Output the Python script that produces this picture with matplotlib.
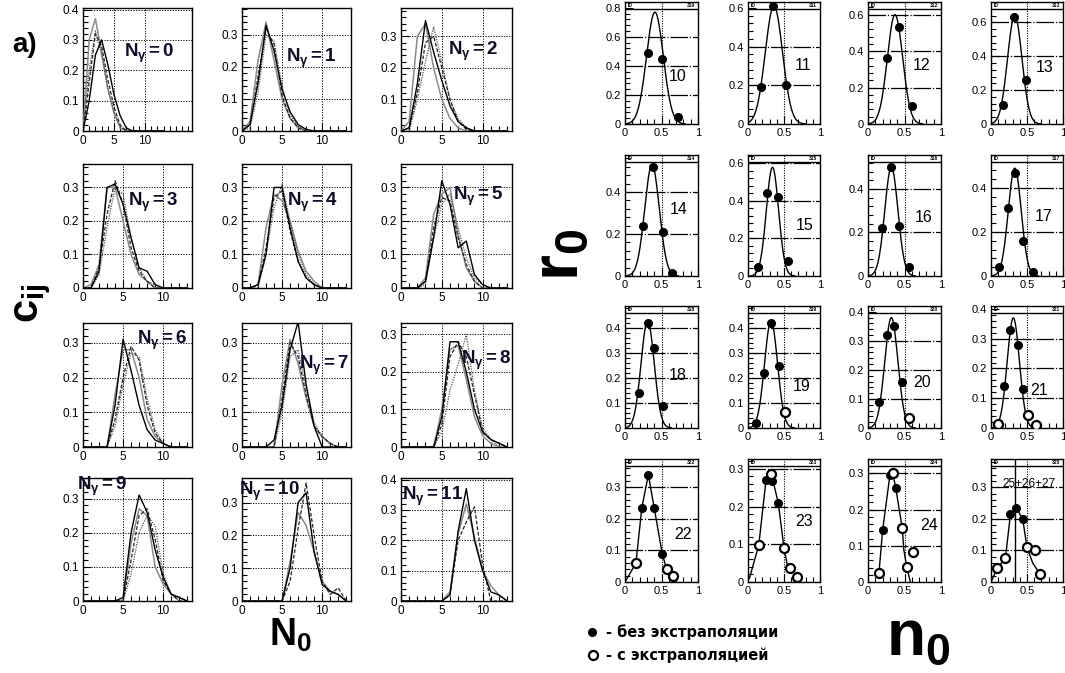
import numpy as np
import matplotlib
matplotlib.use('Agg')
import matplotlib.pyplot as plt
from matplotlib.ticker import MultipleLocator, FuncFormatter, FixedLocator

plt.rcParams['font.family'] = ['Liberation Sans', 'DejaVu Sans']
plt.rcParams['mathtext.fontset'] = 'custom'
plt.rcParams['mathtext.rm'] = 'Liberation Sans'
plt.rcParams['mathtext.bf'] = 'Liberation Sans:bold'
plt.rcParams['mathtext.it'] = 'Liberation Sans:italic'

# ---------------- left block: c_ij vs N0 ----------------
n0_grid = list(range(14))
n_gamma = list(range(12))

c_black = [
    [0, 0.10, 0.25, 0.30, 0.22, 0.12, 0.05, 0.01, 0, 0, 0, 0, 0, 0],
    [0, 0.02, 0.15, 0.33, 0.25, 0.13, 0.06, 0.02, 0.005, 0, 0, 0, 0, 0],
    [0, 0.01, 0.15, 0.35, 0.25, 0.16, 0.08, 0.03, 0.01, 0, 0, 0, 0, 0],
    [0, 0, 0.05, 0.30, 0.31, 0.25, 0.15, 0.06, 0.05, 0.01, 0, 0, 0, 0],
    [0, 0, 0.01, 0.10, 0.30, 0.30, 0.18, 0.08, 0.03, 0.01, 0, 0, 0, 0],
    [0, 0, 0, 0.02, 0.15, 0.32, 0.25, 0.12, 0.14, 0.04, 0.01, 0, 0, 0],
    [0, 0, 0, 0, 0.12, 0.31, 0.22, 0.12, 0.05, 0.02, 0.01, 0, 0, 0],
    [0, 0, 0, 0, 0.02, 0.12, 0.28, 0.36, 0.18, 0.06, 0, 0, 0, 0],
    [0, 0, 0, 0, 0, 0.08, 0.28, 0.28, 0.20, 0.10, 0.04, 0.02, 0.01, 0],
    [0, 0, 0, 0, 0, 0.01, 0.20, 0.31, 0.26, 0.15, 0.07, 0.02, 0.01, 0],
    [0, 0, 0, 0, 0, 0, 0.10, 0.30, 0.33, 0.15, 0.05, 0.03, 0.02, 0],
    [0, 0, 0, 0, 0, 0, 0.02, 0.23, 0.37, 0.20, 0.10, 0.03, 0.02, 0],
]
c_gray = [
    [0, 0.30, 0.37, 0.26, 0.14, 0.06, 0.01, 0, 0, 0, 0, 0, 0, 0],
    [0, 0.03, 0.22, 0.34, 0.22, 0.10, 0.04, 0.01, 0, 0, 0, 0, 0, 0],
    [0, 0.03, 0.30, 0.34, 0.20, 0.10, 0.04, 0.01, 0, 0, 0, 0, 0, 0],
    [0, 0.01, 0.07, 0.30, 0.30, 0.20, 0.10, 0.04, 0.02, 0, 0, 0, 0, 0],
    [0, 0, 0.01, 0.18, 0.28, 0.26, 0.20, 0.11, 0.05, 0.02, 0, 0, 0, 0],
    [0, 0, 0, 0.03, 0.22, 0.28, 0.30, 0.16, 0.06, 0.02, 0, 0, 0, 0],
    [0, 0, 0, 0, 0.15, 0.28, 0.28, 0.20, 0.08, 0.03, 0.01, 0, 0, 0],
    [0, 0, 0, 0, 0, 0.18, 0.31, 0.24, 0.14, 0.06, 0.03, 0.01, 0, 0],
    [0, 0, 0, 0, 0, 0.10, 0.26, 0.27, 0.18, 0.08, 0.03, 0.01, 0, 0],
    [0, 0, 0, 0, 0, 0, 0.17, 0.27, 0.25, 0.10, 0.05, 0.02, 0.01, 0],
    [0, 0, 0, 0, 0, 0, 0.12, 0.27, 0.23, 0.15, 0.06, 0.03, 0.02, 0],
    [0, 0, 0, 0, 0, 0, 0.03, 0.22, 0.32, 0.21, 0.10, 0.05, 0.02, 0],
]
c_dash = [
    [0, 0.16, 0.32, 0.28, 0.17, 0.08, 0.02, 0, 0, 0, 0, 0, 0, 0],
    [0, 0.02, 0.17, 0.32, 0.27, 0.11, 0.04, 0.01, 0, 0, 0, 0, 0, 0],
    [0, 0.01, 0.12, 0.28, 0.30, 0.20, 0.10, 0.03, 0.005, 0, 0, 0, 0, 0],
    [0, 0, 0.06, 0.22, 0.32, 0.25, 0.12, 0.05, 0.02, 0, 0, 0, 0, 0],
    [0, 0, 0.01, 0.12, 0.27, 0.29, 0.17, 0.08, 0.03, 0.01, 0, 0, 0, 0],
    [0, 0, 0, 0.02, 0.18, 0.27, 0.26, 0.15, 0.07, 0.02, 0, 0, 0, 0],
    [0, 0, 0, 0, 0.08, 0.20, 0.29, 0.25, 0.12, 0.04, 0.01, 0, 0, 0],
    [0, 0, 0, 0, 0, 0.14, 0.30, 0.26, 0.15, 0.06, 0.03, 0.01, 0, 0],
    [0, 0, 0, 0, 0, 0.06, 0.24, 0.28, 0.24, 0.14, 0.04, 0.02, 0.01, 0],
    [0, 0, 0, 0, 0, 0, 0.12, 0.25, 0.27, 0.18, 0.06, 0.02, 0, 0],
    [0, 0, 0, 0, 0, 0, 0.06, 0.22, 0.36, 0.20, 0.06, 0.02, 0.04, 0],
    [0, 0, 0, 0, 0, 0, 0.02, 0.20, 0.26, 0.31, 0.12, 0, 0, 0],
]
c_dot = [
    [0, 0.20, 0.33, 0.25, 0.14, 0.06, 0.015, 0, 0, 0, 0, 0, 0, 0],
    [0, 0.01, 0.12, 0.30, 0.28, 0.14, 0.05, 0.015, 0, 0, 0, 0, 0, 0],
    [0, 0, 0.10, 0.22, 0.33, 0.22, 0.10, 0.04, 0.01, 0, 0, 0, 0, 0],
    [0, 0, 0.04, 0.18, 0.30, 0.28, 0.15, 0.06, 0.02, 0.01, 0, 0, 0, 0],
    [0, 0, 0, 0.10, 0.24, 0.31, 0.20, 0.10, 0.04, 0.01, 0, 0, 0, 0],
    [0, 0, 0, 0.01, 0.15, 0.25, 0.28, 0.18, 0.09, 0.03, 0.01, 0, 0, 0],
    [0, 0, 0, 0, 0.06, 0.18, 0.27, 0.26, 0.14, 0.05, 0.01, 0, 0, 0],
    [0, 0, 0, 0, 0, 0.10, 0.26, 0.28, 0.17, 0.07, 0.03, 0.01, 0, 0],
    [0, 0, 0, 0, 0, 0.04, 0.15, 0.22, 0.30, 0.15, 0.05, 0.02, 0, 0],
    [0, 0, 0, 0, 0, 0, 0.08, 0.20, 0.25, 0.22, 0.08, 0.02, 0, 0],
    None,
    None,
]
left_xmax = [17.6] + [13.6] * 11
left_xticks = [0, 5, 10]
left_ymax = [0.405, 0.384, 0.39, 0.37, 0.37, 0.37, 0.357, 0.357, 0.33, 0.36, 0.375, 0.405]
ng_label_pos = [(0.61, 0.63), (0.64, 0.59), (0.65, 0.65), (0.64, 0.69), (0.65, 0.69), (0.70, 0.74),
                (0.73, 0.86), (0.75, 0.66), (0.77, 0.70), (0.18, 0.93), (0.25, 0.89), (0.28, 0.85)]

# ---------------- right block: r0 vs n0 ----------------
bin_ids = list(range(10, 26))
bin_labels = ['10', '11', '12', '13', '14', '15', '16', '17', '18', '19', '20', '21', '22', '23', '24', '25+26+27']
header_ids = ['310', '311', '312', '313', '314', '315', '316', '317',
              '318', '319', '320', '321', '322', '323', '324', '325']
r_ymax = [0.84, 0.63, 0.67, 0.72, 0.576, 0.645, 0.556, 0.55,
          0.49, 0.49, 0.42, 0.41, 0.39, 0.326, 0.34, 0.39]
r_ystep = [0.2] * 8 + [0.1] * 8

filled_x = [[0.31, 0.50, 0.72], [0.18, 0.35, 0.53], [0.26, 0.42, 0.60], [0.16, 0.32, 0.48],
            [0.24, 0.38, 0.52, 0.65], [0.14, 0.27, 0.41, 0.55], [0.19, 0.32, 0.43, 0.56],
            [0.11, 0.23, 0.34, 0.45, 0.58],
            [0.19, 0.31, 0.40, 0.52], [0.11, 0.22, 0.32, 0.43], [0.15, 0.26, 0.36, 0.46],
            [0.18, 0.27, 0.37, 0.45],
            [0.23, 0.32, 0.40, 0.51], [0.25, 0.33, 0.42], [0.20, 0.30, 0.38], [0.27, 0.35, 0.44]]
filled_y = [[0.49, 0.45, 0.05], [0.19, 0.61, 0.20], [0.36, 0.53, 0.10], [0.11, 0.63, 0.26],
            [0.24, 0.52, 0.21, 0.015], [0.05, 0.44, 0.42, 0.08], [0.22, 0.50, 0.23, 0.04],
            [0.04, 0.31, 0.47, 0.16, 0.02],
            [0.14, 0.42, 0.32, 0.09], [0.02, 0.22, 0.42, 0.25], [0.09, 0.32, 0.35, 0.16],
            [0.14, 0.33, 0.28, 0.13],
            [0.235, 0.34, 0.235, 0.09], [0.27, 0.268, 0.21], [0.143, 0.295, 0.26], [0.215, 0.235, 0.20]]
open_x = [[], [], [], [], [], [], [], [],
          [], [0.52], [0.56], [0.10, 0.51, 0.63],
          [0.15, 0.57, 0.66], [0.15, 0.32, 0.50, 0.59, 0.68], [0.15, 0.34, 0.47, 0.53, 0.62],
          [0.09, 0.20, 0.50, 0.61, 0.68]]
open_y = [[], [], [], [], [], [], [], [],
          [], [0.065], [0.035], [0.015, 0.045, 0.01],
          [0.06, 0.04, 0.02], [0.098, 0.285, 0.09, 0.037, 0.013], [0.025, 0.30, 0.148, 0.042, 0.084],
          [0.045, 0.075, 0.11, 0.10, 0.025]]

# Gaussian fit parameters (panels 10..21)
fit_amp = [0.77, 0.61, 0.60, 0.64, 0.53, 0.58, 0.50, 0.49, 0.43, 0.43, 0.38, 0.37]
fit_mu = [0.41, 0.36, 0.37, 0.33, 0.37, 0.34, 0.32, 0.33, 0.31, 0.32, 0.32, 0.31]
fit_sig = [0.115, 0.12, 0.105, 0.10, 0.10, 0.085, 0.09, 0.09, 0.09, 0.09, 0.09, 0.085]

# connecting curves for panels 22..25
line_x = [[0.0, 0.15, 0.23, 0.32, 0.40, 0.51, 0.57],
          [0.02, 0.15, 0.25, 0.32, 0.42, 0.50, 0.55],
          [0.15, 0.20, 0.30, 0.34, 0.38, 0.47, 0.49, 0.53, 0.58],
          [0.0, 0.09, 0.20, 0.27, 0.35, 0.44, 0.50, 0.58, 0.68]]
line_y = [[0.0, 0.06, 0.235, 0.34, 0.235, 0.09, 0.04],
          [0.01, 0.098, 0.27, 0.29, 0.21, 0.09, 0.04],
          [0.025, 0.143, 0.295, 0.30, 0.26, 0.148, 0.09, 0.042, 0.0],
          [0.0, 0.045, 0.075, 0.215, 0.235, 0.20, 0.11, 0.06, 0.025]]
vline_25 = 0.34
label_pos = [(0.72, 0.39), (0.77, 0.48), (0.74, 0.48), (0.75, 0.46),
             (0.73, 0.55), (0.79, 0.42), (0.76, 0.48), (0.73, 0.49),
             (0.72, 0.43), (0.75, 0.34), (0.74, 0.37), (0.67, 0.31),
             (0.79, 0.39), (0.78, 0.49), (0.84, 0.46), (0.53, 0.80)]

# ---------------- figure ----------------
W, H = 1065, 673
fig = plt.figure(figsize=(W / 100, H / 100), dpi=100)


def add_ax(l, r, t, b):
    return fig.add_axes([l / W, 1 - b / H, (r - l) / W, (b - t) / H])


def fmt(v, _):
    if abs(v) < 1e-9:
        return '0'
    return ('%g' % round(v, 3))


left_cols = [(83, 192), (242, 351), (401, 512)]
left_rows = [(8, 131), (164, 288), (323, 447), (478, 601)]

for i, ng in enumerate(n_gamma):
    r, c = divmod(i, 3)
    ax = add_ax(left_cols[c][0], left_cols[c][1], left_rows[r][0], left_rows[r][1])
    ax.plot(n0_grid, c_gray[i], color='#8a8a8a', lw=1.1, zorder=3)
    if c_dot[i] is not None:
        ax.plot(n0_grid, c_dot[i], color='#555555', lw=0.9, ls=(0, (1, 1)), zorder=3)
    ax.plot(n0_grid, c_dash[i], color='#222222', lw=0.9, ls=(0, (3, 1.5)), zorder=3)
    ax.plot(n0_grid, c_black[i], color='black', lw=1.0, zorder=4)
    ax.set_xlim(0, left_xmax[i])
    ax.set_ylim(0, left_ymax[i])
    ax.xaxis.set_major_locator(FixedLocator(left_xticks))
    ax.xaxis.set_minor_locator(MultipleLocator(1))
    ax.yaxis.set_major_locator(MultipleLocator(0.1))
    ax.yaxis.set_minor_locator(MultipleLocator(0.02))
    ax.xaxis.set_major_formatter(FuncFormatter(fmt))
    ax.yaxis.set_major_formatter(FuncFormatter(fmt))
    ax.grid(True, which='major', color='black', lw=0.7, ls=(0, (1.2, 1.5)))
    ax.tick_params(which='both', direction='in', top=False, right=False, width=0.8,
                   labelsize=8.5, pad=3)
    ax.tick_params(which='major', length=6)
    ax.tick_params(which='minor', length=3.5)
    for s in ax.spines.values():
        s.set_linewidth(1.0)
    lx, ly = ng_label_pos[i]
    ax.text(lx, ly, r'$\mathbf{N}_{\mathbf{\gamma}}\mathbf{=%d}$' % ng, transform=ax.transAxes,
            fontsize=13.5, color='#0d0d2a', ha='center', va='center', zorder=6)

right_cols = [(625, 698), (748, 820), (868, 941), (991, 1063)]
right_rows = [(2, 124), (155, 276), (306, 428), (459, 582)]

for i, bid in enumerate(bin_ids):
    r, c = divmod(i, 4)
    ax = add_ax(right_cols[c][0], right_cols[c][1], right_rows[r][0], right_rows[r][1])
    ymax = r_ymax[i]
    ax.set_xlim(0, 1)
    ax.set_ylim(0, ymax)
    step = r_ystep[i]
    yv = step
    while yv < ymax * 0.95:
        ax.axhline(yv, color='black', lw=0.9, ls=(0, (14, 1.5, 1, 1.5)), zorder=1)
        yv += step
    ax.axvline(0.5, color='black', lw=0.8, ls=(0, (1, 1.2)), zorder=1)
    hy = 1 - 7.0 / 122
    ax.plot([0, 1], [hy, hy], transform=ax.transAxes, color='black', lw=1.0, zorder=5)
    ax.text(0.04, (1 + hy) / 2, 'ID', transform=ax.transAxes, fontsize=3.5,
            fontweight='bold', ha='left', va='center')
    ax.text(0.96, (1 + hy) / 2, header_ids[i], transform=ax.transAxes, fontsize=3.5,
            fontweight='bold', ha='right', va='center')
    if i < 12:
        xs = np.linspace(max(0.0, fit_mu[i] - 3.6 * fit_sig[i]),
                         min(1.0, fit_mu[i] + 3.6 * fit_sig[i]), 200)
        ax.plot(xs, fit_amp[i] * np.exp(-0.5 * ((xs - fit_mu[i]) / fit_sig[i]) ** 2),
                color='black', lw=1.0, zorder=3)
    else:
        k = i - 12
        ax.plot(line_x[k], line_y[k], color='black', lw=1.0, zorder=3)
    if i == 15:
        ax.axvline(vline_25, color='black', lw=1.0, zorder=3)
    ax.plot(filled_x[i], filled_y[i], 'o', color='black', ms=5.5, zorder=6)
    if open_x[i]:
        ax.plot(open_x[i], open_y[i], 'o', mfc='white', mec='black', mew=1.6, ms=6.5, zorder=6)
    ax.xaxis.set_major_locator(MultipleLocator(0.5))
    ax.xaxis.set_minor_locator(MultipleLocator(0.1))
    ax.yaxis.set_major_locator(MultipleLocator(step))
    ax.yaxis.set_minor_locator(MultipleLocator(step / 5))
    ax.xaxis.set_major_formatter(FuncFormatter(fmt))
    ax.yaxis.set_major_formatter(FuncFormatter(fmt))
    ax.tick_params(which='both', direction='in', top=False, right=False, width=0.8,
                   labelsize=8, pad=3)
    ax.tick_params(which='major', length=6)
    ax.tick_params(which='minor', length=3.5)
    for s in ax.spines.values():
        s.set_linewidth(1.0)
    lx, ly = label_pos[i]
    ax.text(lx, ly, bin_labels[i], transform=ax.transAxes, fontsize=11.5 if i < 15 else 8.5,
            ha='center', va='center', zorder=7)

# big labels
fig.text(25 / W, 1 - 45 / H, 'a)', fontsize=20, fontweight='bold', ha='center', va='center')
fig.text(33 / W, 1 - 303 / H, r'$\mathbf{c}_{\mathbf{ij}}$', fontsize=30, rotation=90,
         ha='center', va='center')
fig.text(290 / W, 1 - 635 / H, r'$\mathbf{N}_{\mathbf{0}}$', fontsize=27, ha='center', va='center')
fig.text(560 / W, 1 - 255 / H, r'$\mathbf{r}_{\mathbf{0}}$', fontsize=48, rotation=90,
         ha='center', va='center')
fig.text(918 / W, 1 - 638 / H, r'$\mathbf{n}_{\mathbf{0}}$', fontsize=46, ha='center', va='center')

# legend
fig.lines.append(plt.Line2D([592 / W], [1 - 632 / H], marker='o', color='black', ms=5.5,
                            transform=fig.transFigure, figure=fig))
fig.lines.append(plt.Line2D([593 / W], [1 - 655 / H], marker='o', mfc='white', mec='black',
                            mew=1.6, ms=6.5, transform=fig.transFigure, figure=fig))
fig.text(606 / W, 1 - 632 / H, '- без экстраполяции', fontsize=10.5, fontweight='bold',
         family='DejaVu Sans', ha='left', va='center')
fig.text(606 / W, 1 - 655 / H, '- с экстраполяцией', fontsize=10.5, fontweight='bold',
         family='DejaVu Sans', ha='left', va='center')

fig.savefig('out.png', dpi=100)
